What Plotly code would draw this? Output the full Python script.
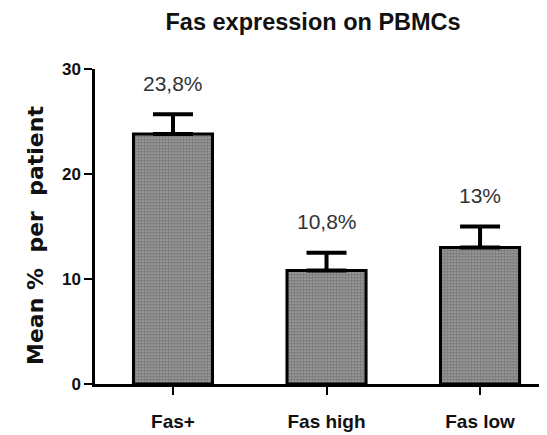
import plotly.graph_objects as go

categories = ["Fas+", "Fas high", "Fas low"]
means = [23.8, 10.8, 13.0]
err_plus = [1.9, 1.7, 2.0]
labels = ["23,8%", "10,8%", "13%"]
y_ticks = [0, 10, 20, 30]

fig = go.Figure()
fig.add_trace(go.Bar(
    x=categories, y=means, width=0.515,
    marker=dict(color="white",
                line=dict(color="black", width=3),
                pattern=dict(shape=".", fgcolor="black", bgcolor="white", size=3, solidity=0.85)),
    error_y=dict(type="data", array=err_plus, arrayminus=[0, 0, 0], symmetric=False,
                 color="black", thickness=4, width=20),
))

for c, m, e, t in zip(categories, means, err_plus, labels):
    fig.add_annotation(x=c, y=m + e, text=t, showarrow=False, yshift=31, yanchor="middle",
                       font=dict(family="Liberation Sans, Arial", size=21, color="#333333"))

fig.add_annotation(xref="paper", yref="paper", x=-0.1305, y=0.47, xanchor="center", yanchor="middle",
                   text="Mean %  per  patient", textangle=-90, showarrow=False,
                   font=dict(family="DejaVu Sans", size=22, color="#111111", weight="bold"))

# page body has an 8px margin: figure is 539x427 drawn at (8,8)
fig.update_layout(
    width=539, height=427,
    margin=dict(l=87, r=0, t=61, b=51),
    plot_bgcolor="white", paper_bgcolor="white",
    showlegend=False,
    title=dict(text="<b>Fas expression on PBMCs</b>", x=0.566, xanchor="center", y=0.967, yanchor="middle",
               font=dict(family="Liberation Sans, Arial", size=23.5, color="#111111")),
    xaxis=dict(range=[-0.508, 2.436], showline=True, linecolor="black", linewidth=2.5,
               ticks="outside", ticklen=8, tickwidth=2, tickcolor="black", ticklabelstandoff=10,
               tickfont=dict(family="Liberation Sans, Arial", size=19, color="#111111", weight="bold"),
               showgrid=False, zeroline=False),
    yaxis=dict(range=[0, 30], tickvals=y_ticks, showline=True, linecolor="black", linewidth=2.5,
               ticks="outside", ticklen=8, tickwidth=2, tickcolor="black",
               tickfont=dict(family="Liberation Sans Narrow, Liberation Sans, Arial", size=17, color="#111111", weight="bold"),
               showgrid=False, zeroline=False),
)

fig.write_html("out.html")
